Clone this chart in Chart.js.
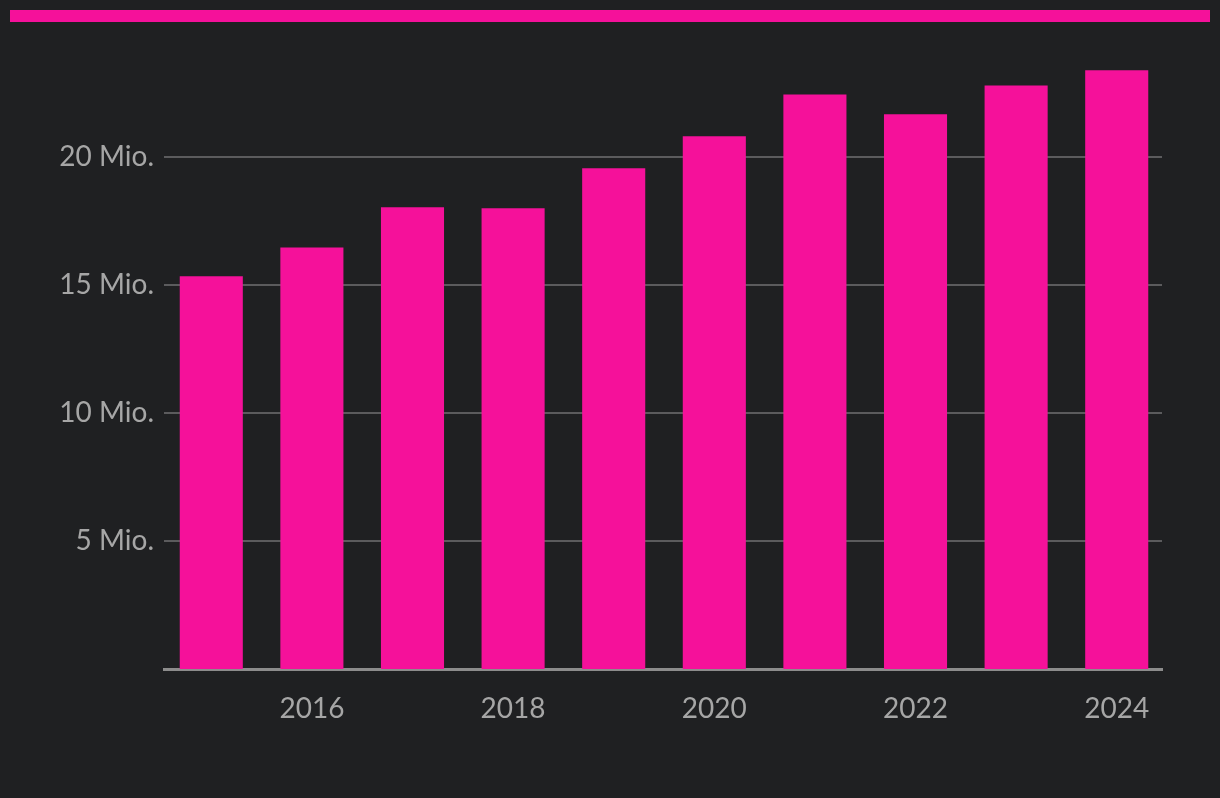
<!DOCTYPE html>
<html>
<head>
<meta charset="utf-8">
<script src="https://cdn.jsdelivr.net/npm/chart.js@4"></script>
<style>
  html,body{margin:0;padding:0;background:#1f2022;}
  #wrap{position:relative;width:1220px;height:798px;}
  #topbar{position:absolute;left:10px;top:10px;width:1200px;height:12px;background:#f5119a;}
  canvas{position:absolute;left:0;top:0;}
</style>
</head>
<body>
<div id="wrap">
  <div id="topbar"></div>
  <canvas id="grafico" width="1220" height="798"></canvas>
</div>
<script>
// Jahreswerte in Mio.
const jahre = [2015,2016,2017,2018,2019,2020,2021,2022,2023,2024];
const werte = [15.35,16.48,18.05,18.01,19.57,20.82,22.46,21.68,22.81,23.40];
const xTicks = [2016,2018,2020,2022,2024];
const yTicks = [5,10,15,20];

const rosa = "#f5119a";
const schrift = {family:"Lato, 'Open Sans', sans-serif", size:28};

const dados = jahre.map((j,i)=>({x:j, y:werte[i]}));

new Chart(document.getElementById("grafico"),{
  type:"bar",
  data:{datasets:[{data:dados, backgroundColor:rosa, borderWidth:0, barPercentage:0.627, categoryPercentage:1}]},
  options:{
    responsive:false,
    animation:false,
    layout:{padding:{top:55,right:58,left:0,bottom:0}},
    plugins:{legend:{display:false},tooltip:{enabled:false}},
    scales:{
      x:{
        type:"linear",
        offset:false,
        min:2014.53, max:2024.45,
        afterBuildTicks:s=>{ s.ticks = xTicks.map(v=>({value:v})); },
        afterFit:s=>{ s.height = 129; },
        grid:{display:false, drawTicks:false, offset:false},
        border:{display:true, color:"#8c8c8c", width:3},
        ticks:{color:"#a6a6a6", font:schrift, padding:23, maxRotation:0, callback:v=>String(v)}
      },
      y:{
        min:0, max:24,
        afterBuildTicks:s=>{ s.ticks = yTicks.map(v=>({value:v})); },
        afterFit:s=>{ s.width = 164; },
        grid:{color:"#5b5b5d", lineWidth:2, drawTicks:false},
        border:{display:false},
        ticks:{color:"#a6a6a6", font:schrift, padding:10, callback:v=>v+" Mio."}
      }
    }
  }
});
</script>
</body>
</html>
